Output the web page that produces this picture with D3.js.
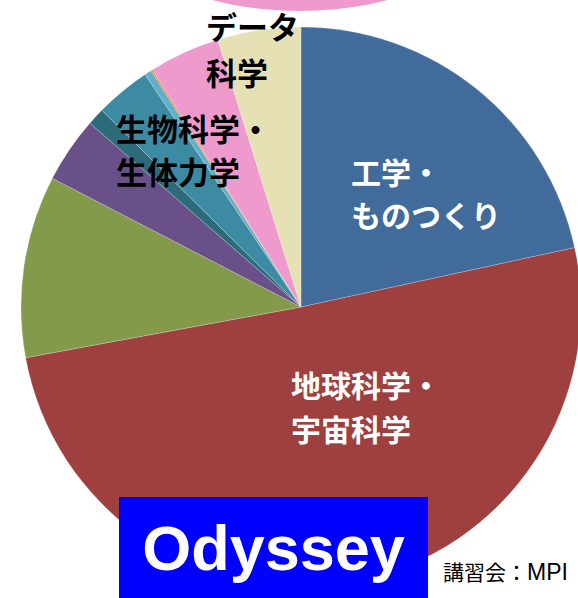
<!DOCTYPE html>
<html lang="ja">
  <head>
    <meta charset="UTF-8">
    <title>Odyssey 分野別利用割合</title>
    <style>
      body { margin: 0; background: #fff; }
      svg { display: block; }
      .label-dark { fill: #000; font-family: "Noto Sans CJK JP", sans-serif; font-weight: bold; font-size: 31px; }
      .label-light { fill: #fff; font-family: "Noto Sans CJK JP", sans-serif; font-weight: bold; font-size: 30px; }
      .title { fill: #fff; font-family: "Liberation Sans", Arial, sans-serif; font-weight: bold; font-size: 63px; }
      .note { fill: #000; font-family: "Noto Sans CJK JP", sans-serif; font-size: 21px; }
      .note tspan { font-family: "Liberation Sans", Arial, sans-serif; font-size: 23px; }
    </style>
    <script src="https://d3js.org/d3.v7.min.js"></script>
  </head>
  <body>
    <script>
      // slices clockwise from 12 o'clock, values in %
      const categories = ["工学・ものつくり", "地球科学・宇宙科学", "g", "p", "t1", "生物科学・生体力学", "t3", "o", "pk", "データ科学"];
      const shares = [21.6, 50.5, 10.5, 3.8, 1.0, 3.2, 0.4, 0.1, 4.1, 4.8];
      const colors = ["#416b9b", "#9e403f", "#839a4b", "#6a5088", "#2e6b7a", "#3d8ba2", "#60b0c8", "#e88c3c", "#ee9acc", "#e5e1b5"];

      const width = 578;
      const height = 598;
      const cx = 301, cy = 307, radius = 280;

      const svg = d3.select("body")
        .append("svg")
        .attr("width", width)
        .attr("height", height);

      // bottom of the neighbouring (pink) pie peeking in at the top
      svg.append("circle")
        .attr("cx", 300)
        .attr("cy", -346)
        .attr("r", 357)
        .attr("fill", "#ee9acc");

      const data = categories.map((c, i) => ({ name: c, value: shares[i], color: colors[i] }));

      const pie = d3.pie()
        .sort(null)
        .value(d => d.value);

      const arc = d3.arc()
        .innerRadius(0)
        .outerRadius(radius);

      const g = svg.append("g")
        .attr("transform", `translate(${cx},${cy})`);

      g.selectAll("path")
        .data(pie(data))
        .enter()
        .append("path")
        .attr("d", arc)
        .attr("fill", d => d.data.color)
        .attr("stroke", "rgba(255,255,255,0.35)")
        .attr("stroke-width", 0.6);

      // slice labels
      const labels = [
        { lines: ["工学・", "ものつくり"], x: 351, y: [184, 227], cls: "label-light" },
        { lines: ["地球科学・", "宇宙科学"], x: 291, y: [397, 441], cls: "label-light" },
        { lines: ["生物科学・", "生体力学"], x: 116, y: [141, 184], cls: "label-dark" },
        { lines: ["データ", "科学"], x: 206, y: [39, 85], cls: "label-dark" }
      ];

      labels.forEach(l => {
        l.lines.forEach((t, i) => {
          svg.append("text")
            .attr("class", l.cls)
            .attr("x", l.x)
            .attr("y", l.y[i])
            .text(t);
        });
      });

      // title box
      svg.append("rect")
        .attr("x", 119)
        .attr("y", 497)
        .attr("width", 309)
        .attr("height", 110)
        .attr("fill", "#0000ff");

      svg.append("text")
        .attr("class", "title")
        .attr("x", 273.5)
        .attr("y", 570)
        .attr("text-anchor", "middle")
        .text("Odyssey");

      const note = svg.append("text")
        .attr("class", "note")
        .attr("x", 443)
        .attr("y", 580)
        .text("講習会：");
      note.append("tspan").text("MPI");
    </script>
  </body>
</html>
